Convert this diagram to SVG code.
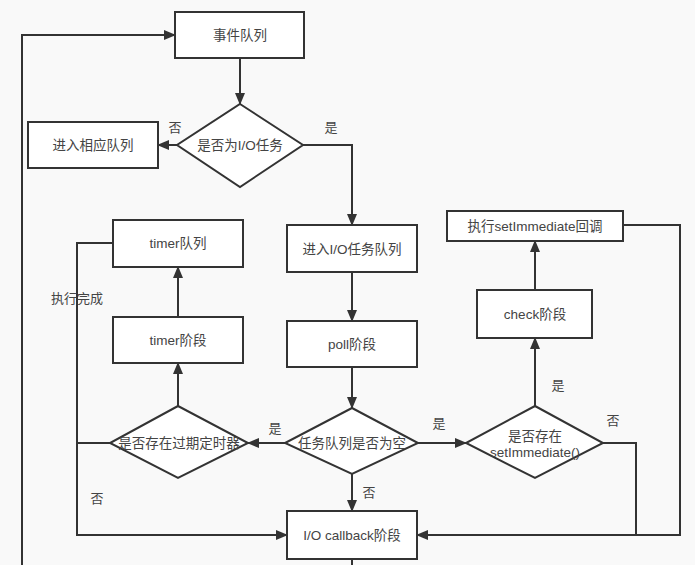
<svg xmlns="http://www.w3.org/2000/svg" width="695" height="565" viewBox="0 0 695 565">
<defs>
<marker id="arr" markerWidth="12" markerHeight="10" refX="11" refY="5" orient="auto" markerUnits="userSpaceOnUse">
<path d="M0,0 L12,5 L0,10 Z" fill="#333"/>
</marker>
<style>
.box{fill:#fff;stroke:#333;stroke-width:2}
.ln{fill:none;stroke:#333;stroke-width:2}
.t{font-family:"Liberation Sans","Noto Sans CJK SC",sans-serif;font-size:13.5px;fill:#444;text-anchor:middle;dominant-baseline:central}
.lb{font-family:"Liberation Sans","Noto Sans CJK SC",sans-serif;font-size:13px;fill:#444;text-anchor:middle;dominant-baseline:central}
</style>
</defs>
<rect width="695" height="565" fill="#f9f9f9"/>
<g id="connectors">
<path class="ln" d="M240,58 L240,104" marker-end="url(#arr)"/>
<path class="ln" d="M177,145 L158,145" marker-end="url(#arr)"/>
<path class="ln" d="M303,145 L352,145 L352,225" marker-end="url(#arr)"/>
<path class="ln" d="M352,272 L352,321" marker-end="url(#arr)"/>
<path class="ln" d="M352,367 L352,408" marker-end="url(#arr)"/>
<path class="ln" d="M285,443 L248,443" marker-end="url(#arr)"/>
<path class="ln" d="M418,443 L466,443" marker-end="url(#arr)"/>
<path class="ln" d="M352,474 L352,511" marker-end="url(#arr)"/>
<path class="ln" d="M178,406 L178,363" marker-end="url(#arr)"/>
<path class="ln" d="M178,317 L178,267" marker-end="url(#arr)"/>
<path class="ln" d="M113,243 L77,243 L77,535 L287,535" marker-end="url(#arr)"/>
<path class="ln" d="M110,443 L77,443"/>
<path class="ln" d="M535,406 L535,338" marker-end="url(#arr)"/>
<path class="ln" d="M535,290 L535,241" marker-end="url(#arr)"/>
<path class="ln" d="M623,225 L680,225 L680,535 L417,535" marker-end="url(#arr)"/>
<path class="ln" d="M603,443 L636,443 L636,535"/>
<path class="ln" d="M352,559 L352,566"/>
<path class="ln" d="M22,566 L22,35 L175,35" marker-end="url(#arr)"/>
</g>
<g id="labels">
<text class="lb" x="175" y="127">否</text>
<text class="lb" x="331" y="127">是</text>
<text class="lb" x="77" y="298">执行完成</text>
<text class="lb" x="275" y="428">是</text>
<text class="lb" x="97" y="498">否</text>
<text class="lb" x="439" y="423">是</text>
<text class="lb" x="369" y="492">否</text>
<text class="lb" x="558" y="385">是</text>
<text class="lb" x="613" y="420">否</text>
</g>
<g id="n-event"><rect class="box" x="175" y="12" width="129" height="46"/><text class="t" x="240" y="35">事件队列</text></g>
<g id="n-isio"><path class="box" d="M240,104 L303,145 L240,187 L177,145 Z"/><text class="t" x="240" y="145">是否为I/O任务</text></g>
<g id="n-other"><rect class="box" x="28" y="122" width="130" height="46"/><text class="t" x="93" y="145">进入相应队列</text></g>
<g id="n-ioqueue"><rect class="box" x="287" y="225" width="130" height="47"/><text class="t" x="352" y="249">进入I/O任务队列</text></g>
<g id="n-poll"><rect class="box" x="287" y="321" width="130" height="46"/><text class="t" x="352" y="344">poll阶段</text></g>
<g id="n-empty"><path class="box" d="M352,408 L418,443 L352,474 L285,443 Z"/><text class="t" x="352" y="443">任务队列是否为空</text></g>
<g id="n-expired"><path class="box" d="M178,406 L248,443 L178,478 L110,443 Z"/><text class="t" x="179" y="443">是否存在过期定时器</text></g>
<g id="n-timerphase"><rect class="box" x="113" y="317" width="130" height="46"/><text class="t" x="178" y="340">timer阶段</text></g>
<g id="n-timerqueue"><rect class="box" x="113" y="220" width="130" height="47"/><text class="t" x="178" y="243">timer队列</text></g>
<g id="n-hasimm"><path class="box" d="M535,406 L603,443 L535,478 L466,443 Z"/><text class="t" x="535" y="436">是否存在</text><text class="t" x="535" y="452">setImmediate()</text></g>
<g id="n-check"><rect class="box" x="477" y="290" width="115" height="48"/><text class="t" x="535" y="314">check阶段</text></g>
<g id="n-immcb"><rect class="box" x="447" y="211" width="176" height="30"/><text class="t" x="535" y="226">执行setImmediate回调</text></g>
<g id="n-iocb"><rect class="box" x="287" y="511" width="130" height="48"/><text class="t" x="352" y="535">I/O callback阶段</text></g>
</svg>
